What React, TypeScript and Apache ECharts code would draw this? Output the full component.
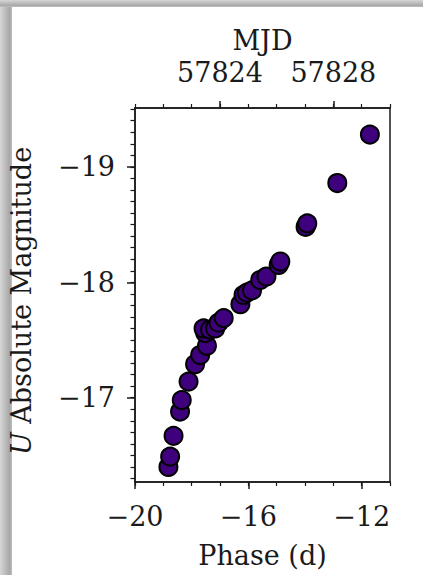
import React, { useEffect, useRef } from "react";
import * as echarts from "echarts";

// Phase (d) and U absolute magnitude of each observation
const phase = [
  -18.82, -18.76, -18.64, -18.41, -18.35, -18.11, -17.88, -17.7, -17.46, -17.52,
  -17.58, -17.35, -17.17, -17.05, -16.87, -16.28, -16.17, -16.05, -15.87, -15.58,
  -15.36, -14.93, -14.87, -13.98, -13.92, -12.86, -11.71,
];
const magU = [
  -16.4, -16.49, -16.67, -16.88, -16.98, -17.14, -17.29, -17.37, -17.45, -17.56,
  -17.6, -17.59, -17.6, -17.65, -17.69, -17.81, -17.89, -17.91, -17.93, -18.02,
  -18.05, -18.15, -18.18, -18.48, -18.51, -18.86, -19.28,
];

const phaseMajorTicks = [-20, -16, -12];
const phaseMinorTicks = [-20, -19, -18, -17, -16, -15, -14, -13, -12, -11];
const mjdMajorTicks = [57824, 57828];
const mjdMinorTicks = [57821, 57822, 57823, 57824, 57825, 57826, 57827, 57828, 57829, 57830];
const magMajorTicks = [-19, -18, -17];
const magMinorTicks = [
  -19.5, -19.4, -19.3, -19.2, -19.1, -19.0, -18.9, -18.8, -18.7, -18.6, -18.5,
  -18.4, -18.3, -18.2, -18.1, -18.0, -17.9, -17.8, -17.7, -17.6, -17.5, -17.4,
  -17.3, -17.2, -17.1, -17.0, -16.9, -16.8, -16.7, -16.6, -16.5, -16.4, -16.3,
];

const FONT = "DejaVu Serif";
const FS = 27;
const INK = "#1a1a1a";
const minus = (v: number) => String(v).replace("-", "\u2212");

export default function App() {
  const ref = useRef<HTMLDivElement>(null);
  useEffect(() => {
    if (!ref.current) return;
    const chart = echarts.init(ref.current, null, { renderer: "svg" });
    const line = { show: true, lineStyle: { color: INK, width: 1.5 } };
    const label = { fontFamily: FONT, fontSize: FS, color: INK };
    const xBase = { min: -20, max: -11, type: "value" as const, splitLine: { show: false } };
    const mjdBase = { min: 57821, max: 57830, type: "value" as const, splitLine: { show: false } };
    const yBase = { min: -19.51, max: -16.27, inverse: true, type: "value" as const, splitLine: { show: false } };
    chart.setOption({
      animation: false,
      backgroundColor: "#ffffff",
      graphic: [
        {
          type: "rect",
          shape: { x: 0, y: 0, width: 12, height: 575 },
          style: {
            fill: new echarts.graphic.LinearGradient(0, 0, 1, 0, [
              { offset: 0, color: "#d6d6d6" },
              { offset: 0.8, color: "#a8a8a8" },
              { offset: 1, color: "#bdbdbd" },
            ]),
          },
          z: -10,
        },
        {
          type: "rect",
          shape: { x: 0, y: 0, width: 423, height: 7 },
          style: {
            fill: new echarts.graphic.LinearGradient(0, 0, 0, 1, [
              { offset: 0, color: "#d6d6d6" },
              { offset: 0.8, color: "#a8a8a8" },
              { offset: 1, color: "#c4c4c4" },
            ]),
          },
          z: -10,
        },
      ],
      grid: { left: 135, right: 33, top: 108, bottom: 93, containLabel: false },
      xAxis: [
        {
          ...xBase,
          position: "bottom",
          axisLine: line,
          axisTick: { show: true, inside: false, length: 7, customValues: phaseMajorTicks, lineStyle: { color: INK, width: 1.5 } },
          axisLabel: { ...label, margin: 21, customValues: phaseMajorTicks, formatter: minus },
          name: "Phase (d)",
          nameLocation: "middle",
          nameGap: 60,
          nameTextStyle: { fontFamily: FONT, fontSize: FS, color: INK },
        },
        {
          ...xBase,
          position: "bottom",
          axisLine: line,
          axisTick: { show: true, length: 4, customValues: phaseMinorTicks, lineStyle: { color: INK, width: 1.2 } },
          axisLabel: { show: false },
        },
        {
          ...mjdBase,
          position: "top",
          axisLine: line,
          axisTick: { show: true, length: 7, customValues: mjdMajorTicks, lineStyle: { color: INK, width: 1.5 } },
          axisLabel: { ...label, margin: 22, customValues: mjdMajorTicks, formatter: (v: number) => String(v) },
          name: "MJD",
          nameLocation: "middle",
          nameGap: 54,
          nameTextStyle: { fontFamily: FONT, fontSize: FS, color: INK },
        },
        {
          ...mjdBase,
          position: "top",
          axisLine: line,
          axisTick: { show: true, length: 4, customValues: mjdMinorTicks, lineStyle: { color: INK, width: 1.2 } },
          axisLabel: { show: false },
        },
      ],
      yAxis: [
        {
          ...yBase,
          position: "left",
          axisLine: line,
          axisTick: { show: true, length: 8, customValues: magMajorTicks, lineStyle: { color: INK, width: 1.5 } },
          axisLabel: { ...label, margin: 20, customValues: magMajorTicks, formatter: minus },
          name: "{i|U} Absolute Magnitude",
          nameLocation: "middle",
          nameRotate: 90,
          nameGap: 100,
          nameTextStyle: {
            fontFamily: FONT,
            fontSize: FS,
            color: INK,
            padding: [0, 12, 0, 0],
            rich: { i: { fontFamily: FONT, fontSize: FS, fontStyle: "italic", color: INK } },
          },
        },
        {
          ...yBase,
          position: "left",
          axisLine: line,
          axisTick: { show: true, length: 4.5, customValues: magMinorTicks, lineStyle: { color: INK, width: 1.2 } },
          axisLabel: { show: false },
        },
        {
          ...yBase,
          position: "right",
          axisLine: line,
          axisTick: { show: false },
          axisLabel: { show: false },
        },
      ],
      series: [
        {
          type: "scatter",
          xAxisIndex: 0,
          yAxisIndex: 0,
          symbol: "circle",
          symbolSize: 18,
          itemStyle: { color: "#3f007d", borderColor: "#000000", borderWidth: 2, opacity: 1 },
          data: phase.map((p, i) => [p, magU[i]]),
        },
      ],
    });
    return () => chart.dispose();
  }, []);
  return (
    <div
      ref={ref}
      style={{ position: "absolute", left: 0, top: 0, width: 423, height: 575 }}
    />
  );
}
